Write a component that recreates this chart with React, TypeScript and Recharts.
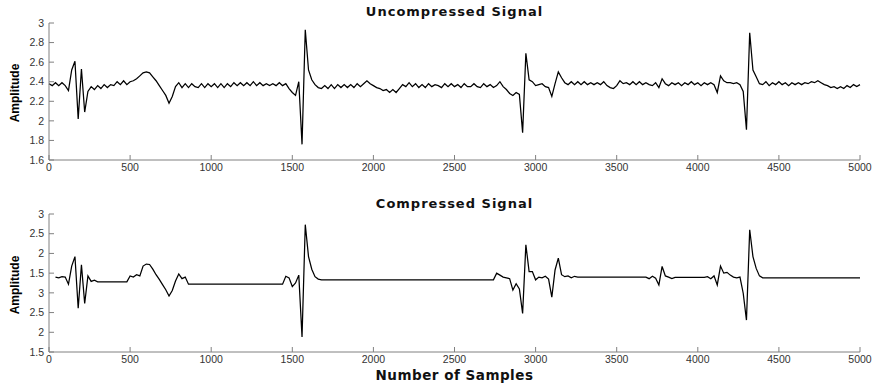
import React from 'react';
import { LineChart, Line, XAxis, YAxis } from 'recharts';

// one reading every 20 samples, 0..5000
const sampleStep = 20;

const sampleTicks = [0, 500, 1000, 1500, 2000, 2500, 3000, 3500, 4000, 4500, 5000];
const topTicks = [1.6, 1.8, 2, 2.2, 2.4, 2.6, 2.8, 3];
const bottomTicks = [-0.5, 0, 0.5, 1, 1.5, 2, 2.5, 3];
const bottomTickLabels = ['1.5', '2', '2.5', '3', '1.5', '2', '2.5', '3'];

const topAmplitude = [
  2.38, 2.36, 2.39, 2.36, 2.39, 2.36, 2.31, 2.52, 2.61, 2.02, // 0
  2.53, 2.09, 2.30, 2.35, 2.32, 2.36, 2.33, 2.37, 2.34, 2.37, // 200
  2.36, 2.40, 2.37, 2.41, 2.37, 2.40, 2.41, 2.43, 2.46, 2.49, // 400
  2.50, 2.49, 2.45, 2.41, 2.36, 2.31, 2.26, 2.18, 2.25, 2.35, // 600
  2.39, 2.34, 2.38, 2.34, 2.38, 2.35, 2.34, 2.38, 2.34, 2.38, // 800
  2.35, 2.38, 2.34, 2.38, 2.34, 2.38, 2.35, 2.39, 2.36, 2.39, // 1000
  2.36, 2.39, 2.36, 2.40, 2.36, 2.39, 2.36, 2.38, 2.36, 2.38, // 1200
  2.36, 2.39, 2.36, 2.38, 2.33, 2.29, 2.26, 2.40, 1.76, 2.93, // 1400
  2.52, 2.42, 2.37, 2.34, 2.33, 2.36, 2.33, 2.37, 2.33, 2.37, // 1600
  2.34, 2.37, 2.34, 2.37, 2.34, 2.38, 2.35, 2.38, 2.41, 2.38, // 1800
  2.36, 2.34, 2.33, 2.31, 2.32, 2.29, 2.32, 2.29, 2.33, 2.37, // 2000
  2.35, 2.39, 2.35, 2.38, 2.34, 2.37, 2.34, 2.38, 2.35, 2.37, // 2200
  2.36, 2.34, 2.38, 2.35, 2.38, 2.35, 2.37, 2.34, 2.38, 2.35, // 2400
  2.35, 2.38, 2.35, 2.34, 2.38, 2.35, 2.37, 2.34, 2.36, 2.40, // 2600
  2.35, 2.32, 2.28, 2.26, 2.29, 2.27, 1.88, 2.69, 2.42, 2.40, // 2800
  2.36, 2.37, 2.38, 2.35, 2.34, 2.25, 2.38, 2.50, 2.44, 2.39, // 3000
  2.37, 2.40, 2.37, 2.40, 2.37, 2.40, 2.37, 2.39, 2.37, 2.39, // 3200
  2.37, 2.40, 2.36, 2.34, 2.33, 2.36, 2.41, 2.38, 2.39, 2.37, // 3400
  2.40, 2.37, 2.40, 2.37, 2.39, 2.37, 2.36, 2.39, 2.34, 2.43, // 3600
  2.38, 2.36, 2.39, 2.37, 2.39, 2.36, 2.39, 2.37, 2.40, 2.37, // 3800
  2.39, 2.36, 2.39, 2.37, 2.39, 2.37, 2.29, 2.46, 2.41, 2.39, // 4000
  2.39, 2.38, 2.39, 2.37, 2.30, 1.91, 2.90, 2.52, 2.45, 2.38, // 4200
  2.37, 2.40, 2.36, 2.39, 2.37, 2.40, 2.37, 2.39, 2.36, 2.39, // 4400
  2.37, 2.39, 2.37, 2.39, 2.38, 2.40, 2.39, 2.41, 2.39, 2.37, // 4600
  2.36, 2.34, 2.35, 2.33, 2.35, 2.33, 2.36, 2.34, 2.37, 2.35, // 4800
  2.37, // 5000
];

const bottomAmplitude = [
  null, null, 1.40, 1.38, 1.41, 1.40, 1.22, 1.68, 1.92, 0.61, // 0
  1.71, 0.73, 1.43, 1.29, 1.32, 1.28, 1.28, 1.28, 1.28, 1.28, // 200
  1.28, 1.28, 1.28, 1.28, 1.28, 1.43, 1.40, 1.46, 1.43, 1.68, // 400
  1.73, 1.72, 1.60, 1.46, 1.34, 1.21, 1.08, 0.92, 1.06, 1.30, // 600
  1.48, 1.36, 1.40, 1.22, 1.22, 1.22, 1.22, 1.22, 1.22, 1.22, // 800
  1.22, 1.22, 1.22, 1.22, 1.22, 1.22, 1.22, 1.22, 1.22, 1.22, // 1000
  1.22, 1.22, 1.22, 1.22, 1.22, 1.22, 1.22, 1.22, 1.22, 1.22, // 1200
  1.22, 1.22, 1.22, 1.42, 1.38, 1.16, 1.25, 1.45, -0.12, 2.73, // 1400
  1.92, 1.60, 1.41, 1.35, 1.33, 1.33, 1.33, 1.33, 1.33, 1.33, // 1600
  1.33, 1.33, 1.33, 1.33, 1.33, 1.33, 1.33, 1.33, 1.33, 1.33, // 1800
  1.33, 1.33, 1.33, 1.33, 1.33, 1.33, 1.33, 1.33, 1.33, 1.33, // 2000
  1.33, 1.33, 1.33, 1.33, 1.33, 1.33, 1.33, 1.33, 1.33, 1.33, // 2200
  1.33, 1.33, 1.33, 1.33, 1.33, 1.33, 1.33, 1.33, 1.33, 1.33, // 2400
  1.33, 1.33, 1.33, 1.33, 1.33, 1.33, 1.33, 1.33, 1.50, 1.45, // 2600
  1.40, 1.38, 1.36, 1.07, 1.23, 1.10, 0.48, 2.22, 1.54, 1.54, // 2800
  1.33, 1.40, 1.38, 1.42, 1.35, 0.89, 1.58, 1.88, 1.46, 1.41, // 3000
  1.43, 1.38, 1.42, 1.40, 1.40, 1.40, 1.40, 1.40, 1.40, 1.40, // 3200
  1.40, 1.40, 1.40, 1.40, 1.40, 1.40, 1.40, 1.40, 1.40, 1.40, // 3400
  1.40, 1.40, 1.40, 1.40, 1.40, 1.36, 1.42, 1.37, 1.20, 1.67, // 3600
  1.43, 1.40, 1.36, 1.39, 1.39, 1.39, 1.39, 1.39, 1.39, 1.39, // 3800
  1.39, 1.39, 1.39, 1.41, 1.36, 1.43, 1.20, 1.68, 1.50, 1.52, // 4000
  1.45, 1.40, 1.38, 1.40, 0.99, 0.31, 2.60, 1.92, 1.62, 1.43, // 4200
  1.38, 1.38, 1.38, 1.38, 1.38, 1.38, 1.38, 1.38, 1.38, 1.38, // 4400
  1.38, 1.38, 1.38, 1.38, 1.38, 1.38, 1.38, 1.38, 1.38, 1.38, // 4600
  1.38, 1.38, 1.38, 1.38, 1.38, 1.38, 1.38, 1.38, 1.38, 1.38, // 4800
  1.38, // 5000
];

const topData = topAmplitude.map((amp, i) => ({ sample: i * sampleStep, amp }));
const bottomData = bottomAmplitude.map((amp, i) => ({ sample: i * sampleStep, amp }));

const FONT = '"Liberation Sans", Arial, sans-serif';
const frame = '#808080';
const tickStyle = { fontSize: 10.5, fill: '#333', fontFamily: FONT };

interface PanelProps {
  data: Array<{ sample: number; amp: number | null }>;
  height: number;
  top: number;
  marginTop: number;
  axisHeight: number;
  yTicks: number[];
  yDomain: [number, number];
  yLabel?: (v: any, i: number) => string;
}

const SignalPanel: React.FC<PanelProps> = ({ data, height, top, marginTop, axisHeight, yTicks, yDomain, yLabel }) => {
  return (
    <div style={{ position: 'absolute', left: 0, top }}>
      <LineChart width={874} height={height} data={data} margin={{ top: marginTop, right: 14, bottom: 0, left: 9 }}>
        <XAxis
          dataKey="sample"
          type="number"
          domain={[0, 5000]}
          ticks={sampleTicks}
          height={axisHeight}
          tickSize={-5}
          tickMargin={9}
          axisLine={{ stroke: frame }}
          tickLine={{ stroke: frame }}
          tick={tickStyle}
          interval={0}
        />
        <XAxis
          xAxisId="top"
          orientation="top"
          dataKey="sample"
          type="number"
          domain={[0, 5000]}
          ticks={sampleTicks}
          height={0}
          tickSize={-5}
          tickFormatter={() => ''}
          axisLine={{ stroke: frame }}
          tickLine={{ stroke: frame }}
          interval={0}
        />
        <YAxis
          type="number"
          domain={yDomain}
          ticks={yTicks}
          width={40}
          tickSize={-5}
          tickMargin={10}
          tickFormatter={yLabel}
          axisLine={{ stroke: frame }}
          tickLine={{ stroke: frame }}
          tick={tickStyle}
          interval={0}
          allowDataOverflow
        />
        <YAxis
          yAxisId="right"
          orientation="right"
          type="number"
          domain={yDomain}
          ticks={yTicks}
          width={0}
          tickSize={-5}
          tickFormatter={() => ''}
          axisLine={{ stroke: frame }}
          tickLine={{ stroke: frame }}
          interval={0}
        />
        <Line
          type="linear"
          dataKey="amp"
          stroke="#000"
          strokeWidth={1.25}
          dot={false}
          isAnimationActive={false}
        />
      </LineChart>
    </div>
  );
};

const titleStyle: React.CSSProperties = {
  position: 'absolute',
  left: 49,
  width: 811,
  textAlign: 'center',
  fontFamily: '"DejaVu Sans", sans-serif',
  fontWeight: 'bold',
  fontSize: 13,
  letterSpacing: 1,
  lineHeight: '16px',
  color: '#111',
};

const ampStyle = (cy: number): React.CSSProperties => ({
  position: 'absolute',
  left: 15 - 50,
  top: cy - 8,
  width: 100,
  height: 16,
  lineHeight: '16px',
  textAlign: 'center',
  transform: 'rotate(-90deg)',
  fontFamily: FONT,
  fontWeight: 'bold',
  fontSize: 12,
  color: '#000',
});

const App: React.FC = () => {
  return (
    <div style={{ position: 'absolute', left: 0, top: 0, width: 874, height: 386, background: '#fff', overflow: 'hidden' }}>
      <SignalPanel data={topData} height={190} top={0} marginTop={23} axisHeight={30} yTicks={topTicks} yDomain={[1.6, 3]} />
      <SignalPanel
        data={bottomData}
        height={196}
        top={190}
        marginTop={24}
        axisHeight={34}
        yTicks={bottomTicks}
        yDomain={[-0.5, 3]}
        yLabel={(_v, i) => bottomTickLabels[i]}
      />
      <div style={{ ...titleStyle, top: 4 }}>Uncompressed Signal</div>
      <div style={{ ...titleStyle, top: 196 }}>Compressed Signal</div>
      <div style={{ ...titleStyle, top: 367, fontSize: 13.5, letterSpacing: 0.5 }}>Number of Samples</div>
      <div style={ampStyle(92.5)}>Amplitude</div>
      <div style={ampStyle(284.5)}>Amplitude</div>
    </div>
  );
};

export default App;
